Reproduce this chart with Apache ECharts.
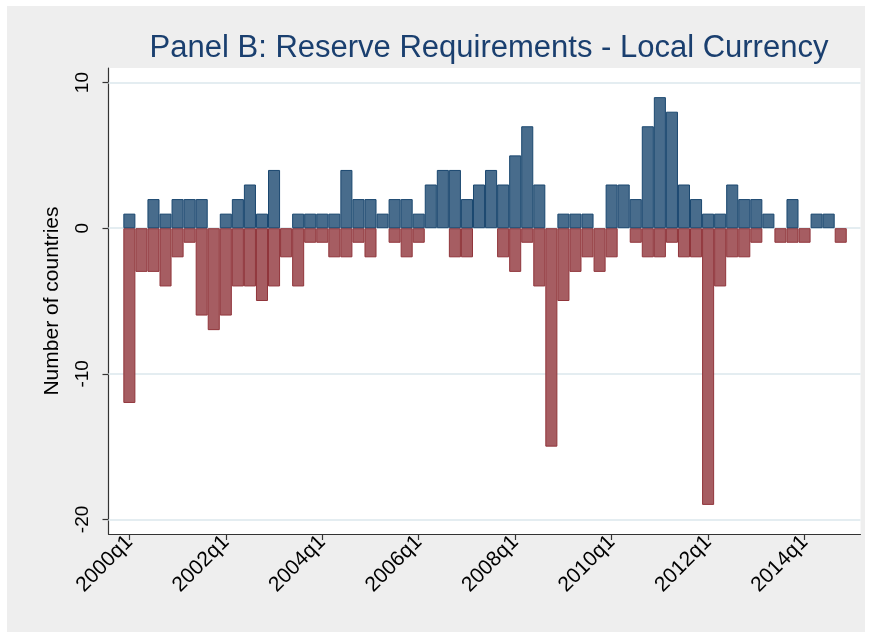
<!DOCTYPE html>
<html>
<head>
<meta charset="utf-8">
<script src="https://cdn.jsdelivr.net/npm/echarts@6/dist/echarts.min.js"></script>
<style>
  html, body { margin: 0; padding: 0; background: #fff; }
  #myChart { width: 871px; height: 638px; }
</style>
</head>
<body>
<div id="myChart"></div>
<script>
// quarters 2000q1 .. 2014q4
var quarters = [];
for (var y = 2000; y <= 2014; y++) {
    for (var q = 1; q <= 4; q++) quarters.push(y + 'q' + q);
}

// number of countries tightening (blue) / loosening (red) each quarter
var tightening = [1, 0, 2, 1, 2, 2, 2, 0, 1, 2, 3, 1, 4, 0, 1, 1, 1, 1, 4, 2,
                  2, 1, 2, 2, 1, 3, 4, 4, 2, 3, 4, 3, 5, 7, 3, 0, 1, 1, 1, 0,
                  3, 3, 2, 7, 9, 8, 3, 2, 1, 1, 3, 2, 2, 1, 0, 2, 0, 1, 1, 0];
var loosening = [-12, -3, -3, -4, -2, -1, -6, -7, -6, -4, -4, -5, -4, -2, -4, -1, -1, -2, -2, -1,
                 -2, 0, -1, -2, -1, 0, 0, -2, -2, 0, 0, -2, -3, -1, -4, -15, -5, -3, -2, -3,
                 -2, 0, -1, -2, -2, -1, -2, -2, -19, -4, -2, -2, -1, 0, -1, -1, -1, 0, 0, -1];

var xTickIdx = [0, 8, 16, 24, 32, 40, 48, 56]; // 2000q1, 2002q1 ... 2014q1
var yTicks = [-20, -10, 0, 10];

function toPairs(arr) {
    var out = [];
    arr.forEach(function (v, i) { if (v !== 0) out.push([i, v]); });
    return out;
}

var myChart = echarts.init(document.getElementById('myChart'));

var labelFont = 'Liberation Sans';

var option = {
    backgroundColor: '#ffffff',
    animation: false,
    graphic: [
        { type: 'rect', z: -10, silent: true,
          shape: { x: 7, y: 6, width: 858, height: 626 },
          style: { fill: '#eeeeee' } },
        { type: 'text', silent: true,
          style: { text: 'Panel B: Reserve Requirements - Local Currency', x: 489, y: 48,
                   textAlign: 'center', textVerticalAlign: 'middle',
                   font: '31px "Liberation Sans"', fill: '#1a3f6f' } }
    ],
    grid: {
        left: 108.5, right: 10.5, top: 68, bottom: 104,
        show: true, backgroundColor: '#ffffff', borderWidth: 0
    },
    xAxis: {
        type: 'value',
        min: -1.73, max: 60.64,
        axisLine: { show: true, onZero: false, lineStyle: { color: '#333', width: 1.2 } },
        axisTick: { show: true, customValues: xTickIdx, length: 6, lineStyle: { color: '#333', width: 1.2 } },
        axisLabel: {
            customValues: xTickIdx, rotate: 45, margin: 5,
            fontFamily: labelFont, fontSize: 21, color: '#000',
            hideOverlap: false, overflow: 'none',
            formatter: function (v) { return quarters[v]; }
        },
        splitLine: { show: false }
    },
    yAxis: {
        type: 'value',
        min: -21, max: 11,
        name: 'Number of countries',
        nameLocation: 'middle', nameGap: 46, nameRotate: 90,
        nameTextStyle: { fontFamily: labelFont, fontSize: 21, color: '#000' },
        axisLine: { show: true, onZero: false, lineStyle: { color: '#333', width: 1.2 } },
        axisTick: { show: true, customValues: yTicks, length: 6, lineStyle: { color: '#333', width: 1.2 } },
        axisLabel: {
            customValues: yTicks, rotate: 90, margin: 16,
            fontFamily: labelFont, fontSize: 19, color: '#000'
        },
        splitLine: { show: false }
    },
    series: [
        {
            name: 'loosening', type: 'bar',
            data: toPairs(loosening),
            barWidth: '100%', barGap: '-100%',
            itemStyle: { color: '#a65d62', borderColor: '#90353b', borderWidth: 1 },
            markLine: {
                silent: true, symbol: 'none', z: 1,
                label: { show: false },
                lineStyle: { color: '#e4edf1', width: 2, type: 'solid' },
                data: yTicks.map(function (v) { return { yAxis: v }; })
            }
        },
        {
            name: 'tightening', type: 'bar',
            data: toPairs(tightening),
            barWidth: '100%', barGap: '-100%',
            itemStyle: { color: '#486c8c', borderColor: '#1a476f', borderWidth: 1 }
        }
    ]
};

myChart.setOption(option);
</script>
</body>
</html>
